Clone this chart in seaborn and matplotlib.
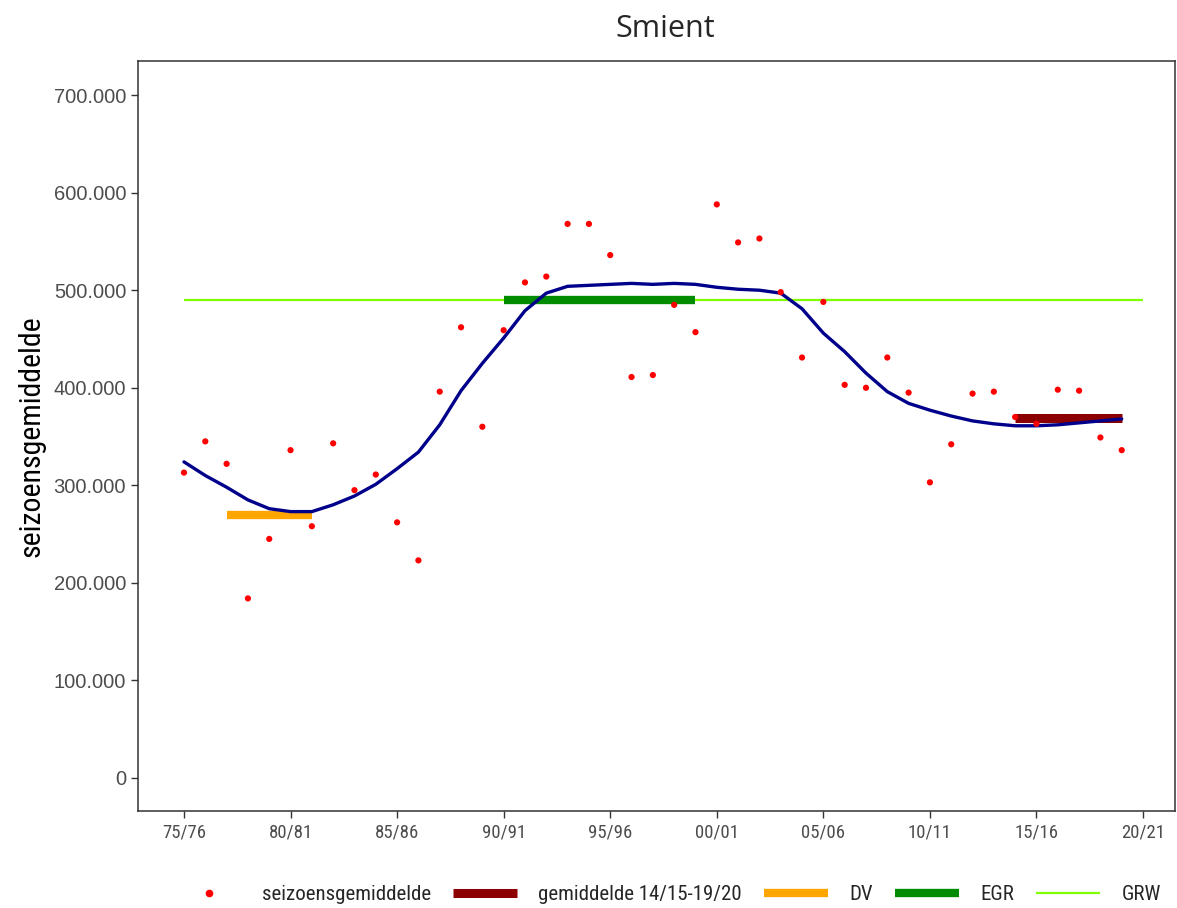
import matplotlib
matplotlib.use("Agg")
import matplotlib.pyplot as plt
from matplotlib import font_manager
from matplotlib.lines import Line2D
import seaborn as sns
import pandas as pd
import numpy as np

# --- data ---
seasons = [f"{y % 100:02d}/{(y + 1) % 100:02d}" for y in range(1975, 2021)]
tick_labels = ["75/76", "80/81", "85/86", "90/91", "95/96",
               "00/01", "05/06", "10/11", "15/16", "20/21"]

season_means = [313000, 345000, 322000, 184000, 245000, 336000, 258000, 343000,
                295000, 311000, 262000, 223000, 396000, 462000, 360000, 459000,
                508000, 514000, 568000, 568000, 536000, 411000, 413000, 485000,
                457000, 588000, 549000, 553000, 498000, 431000, 488000, 403000,
                400000, 431000, 395000, 303000, 342000, 394000, 396000, 370000,
                363000, 398000, 397000, 349000, 336000]

trend = [324000, 310000, 298000, 285000, 276000, 273000, 273000, 280000,
         289000, 301000, 317000, 334000, 362000, 397000, 425000, 451000,
         479000, 497000, 504000, 505000, 506000, 507000, 506000, 507000,
         506000, 503000, 501000, 500000, 497000, 481000, 456000, 437000,
         415000, 396000, 384000, 377000, 371000, 366000, 363000, 361000,
         361000, 362000, 364000, 366000, 368000]

# reference levels: (first season, last season, value)
grw_span = ("75/76", "20/21", 490000)
egr_span = ("90/91", "99/00", 490000)
dv_span = ("77/78", "81/82", 270000)
mean_span = ("14/15", "19/20")

# --- fonts ---
available = {f.name for f in font_manager.fontManager.ttflist}


def pick(*names):
    for n in names:
        if n in available:
            return n
    return "DejaVu Sans"


narrow = pick("Liberation Sans Narrow", "DejaVu Sans Condensed", "Roboto Condensed", "Open Sans")
plain = pick("Liberation Sans", "Arial", "DejaVu Sans")
title_font = pick("Open Sans", "Lato", "DejaVu Sans")

sns.set_theme(style="white")
plt.rcParams["font.family"] = [narrow, "DejaVu Sans"]

pos = {s: i for i, s in enumerate(seasons)}
df = pd.DataFrame({"x": np.arange(len(season_means)), "y": season_means})
trend_df = pd.DataFrame({"x": np.arange(len(trend)), "y": trend})


def span_df(a, b, v):
    return pd.DataFrame({"x": [pos[a], pos[b]], "y": [v, v]})


mean_val = np.mean(season_means[pos[mean_span[0]]:pos[mean_span[1]] + 1])

fig = plt.figure(figsize=(11.77, 9.08), dpi=100)
ax = fig.add_axes([0.1172, 0.1068, 0.8811, 0.826])

bar_kw = dict(ax=ax, solid_capstyle="butt")
sns.lineplot(data=span_df(*grw_span), x="x", y="y", color="#7FFF00", linewidth=1.6, **bar_kw)
sns.lineplot(data=span_df(*egr_span), x="x", y="y", color="#008B00", linewidth=6, **bar_kw)
sns.lineplot(data=span_df(*dv_span), x="x", y="y", color="#FFA500", linewidth=6, **bar_kw)
sns.lineplot(data=span_df(mean_span[0], mean_span[1], mean_val), x="x", y="y",
             color="#8B0000", linewidth=6.5, **bar_kw)
sns.lineplot(data=trend_df, x="x", y="y", ax=ax, color="#00008B", linewidth=2.4, zorder=4)
sns.scatterplot(data=df, x="x", y="y", ax=ax, color="#FF0000", s=20, edgecolor="none", zorder=5)

ax.set_xlim(-2.16, 46.5)
ax.set_ylim(-34000, 735000)
ax.set_xticks([pos[t] for t in tick_labels])
ax.set_xticklabels(tick_labels, fontsize=13.5, color="#4D4D4D")
yt = np.arange(0, 700001, 100000)
ax.set_yticks(yt)
ax.set_yticklabels(["0" if v == 0 else f"{v // 1000}.000" for v in yt],
                   fontsize=14.5, color="#4D4D4D", family=plain)
ax.tick_params(axis="both", direction="out", length=5, width=1, color="#333333", bottom=True, left=True)
ax.tick_params(axis="x", pad=4)
for sp in ax.spines.values():
    sp.set_color("#333333")
    sp.set_linewidth(1.1)
ax.set_xlabel("")
ax.set_ylabel("seizoensgemiddelde", fontsize=21.5, color="black", labelpad=6)
fig.text(0.565, 0.968, "Smient", ha="center", va="center", fontsize=22, family=title_font)

handles = [
    Line2D([], [], color="#FF0000", marker="o", linestyle="none", markersize=4.5),
    Line2D([], [], color="#8B0000", linewidth=6.5, solid_capstyle="butt"),
    Line2D([], [], color="#FFA500", linewidth=6, solid_capstyle="butt"),
    Line2D([], [], color="#008B00", linewidth=6, solid_capstyle="butt"),
    Line2D([], [], color="#7FFF00", linewidth=1.6, solid_capstyle="butt"),
]
labels = ["seizoensgemiddelde", "gemiddelde 14/15-19/20", "DV", "EGR", "GRW"]
fig.legend(handles, labels, loc="center", bbox_to_anchor=(0.568, 0.0145), ncol=5,
           frameon=False, fontsize=15, handlelength=3.1, handletextpad=1.0,
           columnspacing=1.05)

fig.savefig("out.png", dpi=100)
